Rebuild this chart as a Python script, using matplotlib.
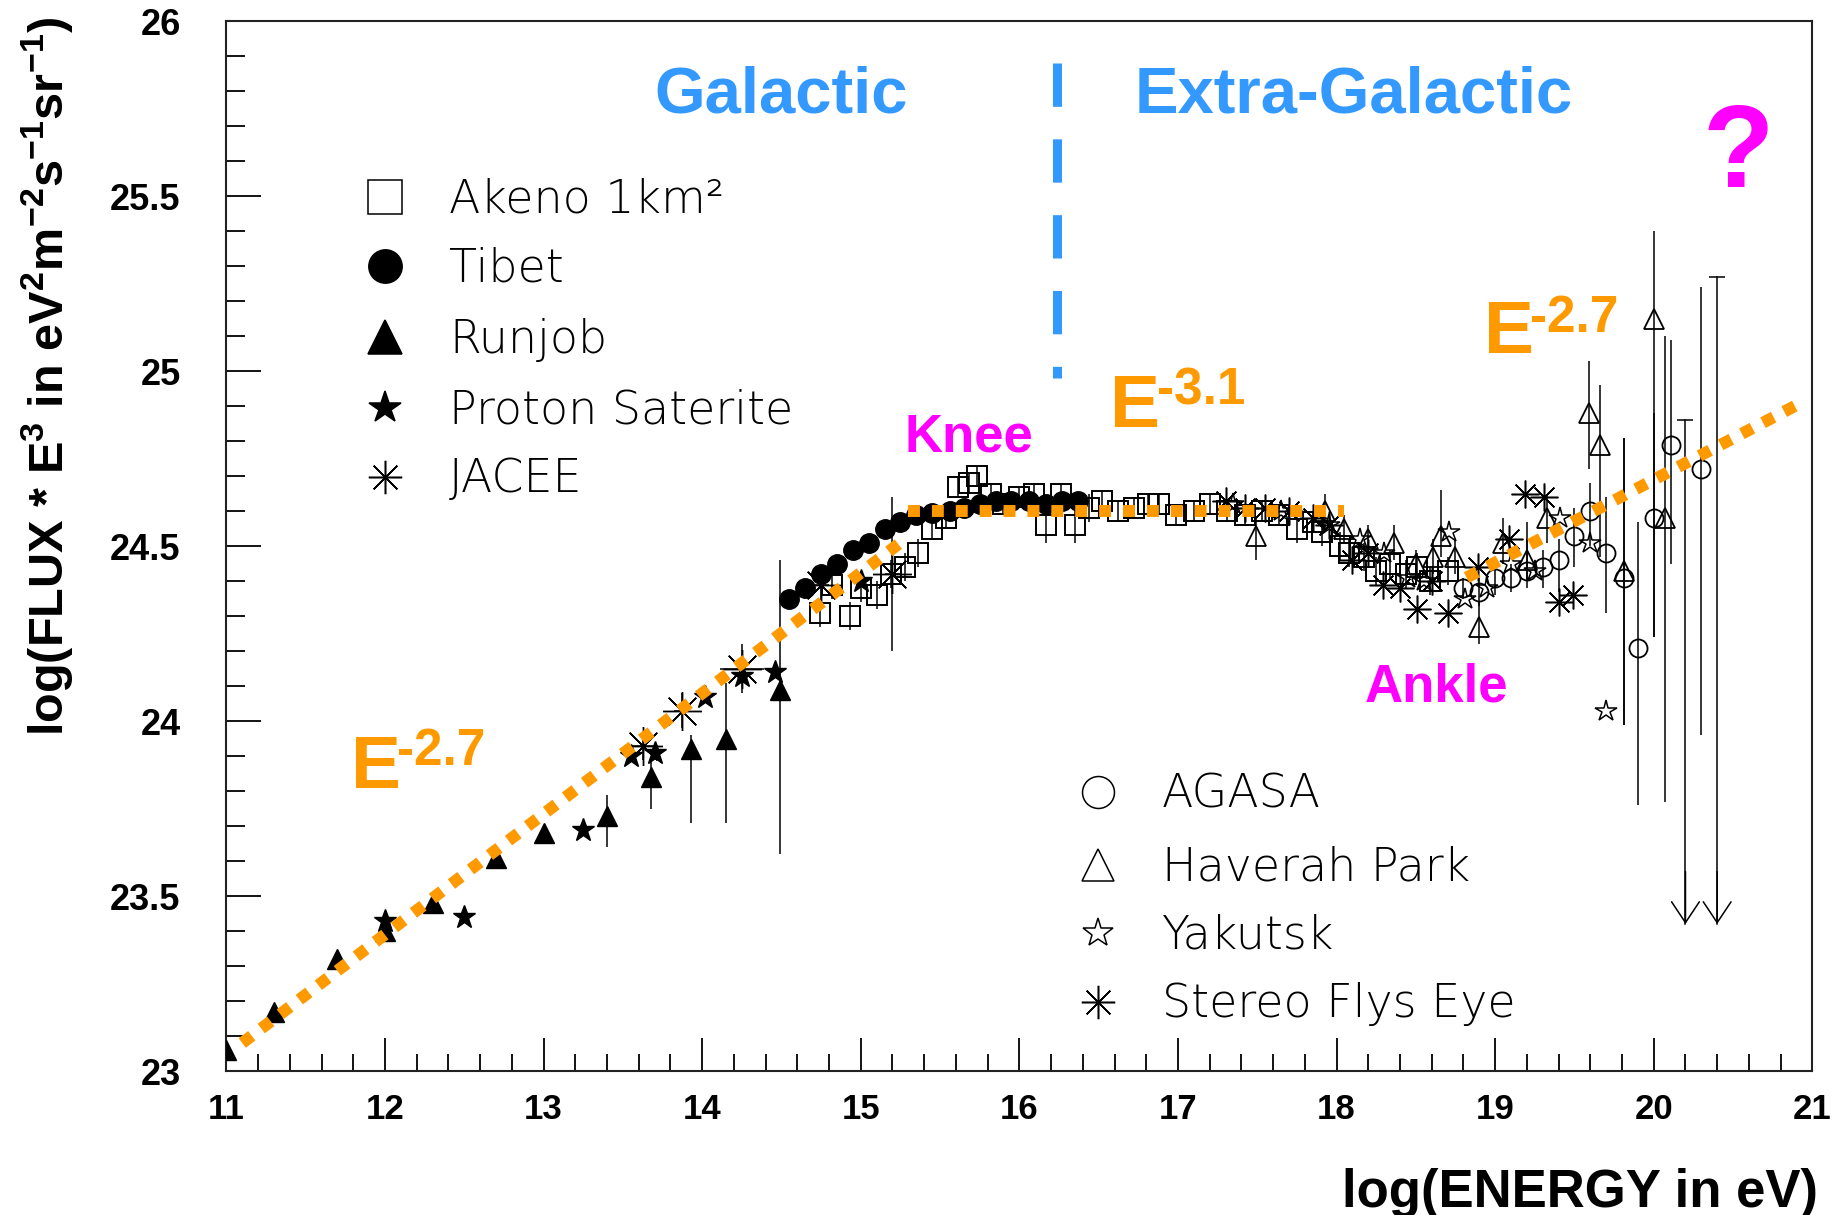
import matplotlib
matplotlib.use("Agg")
import matplotlib.pyplot as plt
from matplotlib.ticker import MultipleLocator, FuncFormatter

# ── fonts / colours ───────────────────────────────────────────────────────────
plt.rcParams["font.family"] = ["Liberation Sans", "DejaVu Sans"]
plt.rcParams["mathtext.fontset"] = "custom"
plt.rcParams["mathtext.rm"] = "Liberation Sans:bold"
plt.rcParams["mathtext.bf"] = "Liberation Sans:bold"
plt.rcParams["mathtext.it"] = "Liberation Sans:bold"

BLUE = "#3399ff"
ORANGE = "#ff9900"
MAGENTA = "#ff00ff"
LEG_FONT = dict(family=["DejaVu Sans"], fontweight=200, fontsize=33)

# ── data: log10(E / eV) vs log10(flux * E^3) ──────────────────────────────────
runjob_x = [11.00, 11.30, 11.70, 12.00, 12.30, 12.70, 13.00, 13.40, 13.68, 13.93, 14.15, 14.49]
runjob_y = [23.06, 23.17, 23.32, 23.40, 23.48, 23.61, 23.68, 23.73, 23.84, 23.92, 23.95, 24.09]
runjob_elo = [0, 0, 0, 0, 0, 0, 0, 0.09, 0.09, 0.21, 0.24, 0.47]
runjob_ehi = [0, 0, 0, 0, 0, 0, 0, 0.06, 0.05, 0.04, 0.16, 0.37]

proton_x = [12.00, 12.50, 13.25, 13.55, 13.70, 14.02, 14.25, 14.46, 15.00]
proton_y = [23.43, 23.44, 23.69, 23.90, 23.91, 24.07, 24.13, 24.14, 24.40]

jacee_x = [13.63, 13.87, 14.25, 14.75, 15.20]
jacee_y = [23.93, 24.03, 24.15, 24.39, 24.42]
jacee_xerr = [0.07, 0.05, 0.14, 0.05, 0.05]
jacee_yerr = [0.04, 0.05, 0.07, 0.05, 0.22]

tibet_x = [14.55, 14.65, 14.75, 14.85, 14.95, 15.05, 15.15, 15.25, 15.35, 15.45,
           15.56, 15.65, 15.75, 15.85, 15.95, 16.06, 16.17, 16.27, 16.37]
tibet_y = [24.35, 24.38, 24.42, 24.45, 24.49, 24.51, 24.55, 24.57, 24.59, 24.595,
           24.60, 24.61, 24.62, 24.63, 24.63, 24.63, 24.62, 24.63, 24.63]

akeno_x = [14.74, 14.82, 14.93, 15.00, 15.10, 15.19, 15.28, 15.36, 15.45, 15.54,
           15.61, 15.68, 15.73, 15.82, 15.90, 16.00, 16.09, 16.17, 16.26, 16.35,
           16.44, 16.52, 16.62, 16.72, 16.81, 16.88, 16.99, 17.10, 17.20, 17.31,
           17.42, 17.53, 17.64, 17.75, 17.85, 17.91, 18.02, 18.08, 18.17, 18.25,
           18.34, 18.44, 18.51, 18.59, 18.70]
akeno_y = [24.31, 24.39, 24.30, 24.38, 24.36, 24.42, 24.44, 24.48, 24.55, 24.58,
           24.67, 24.68, 24.70, 24.65, 24.62, 24.64, 24.65, 24.56, 24.65, 24.56,
           24.61, 24.63, 24.60, 24.61, 24.62, 24.62, 24.59, 24.60, 24.62, 24.60,
           24.59, 24.60, 24.59, 24.55, 24.57, 24.54, 24.50, 24.48, 24.47, 24.43,
           24.45, 24.42, 24.44, 24.40, 24.43]
akeno_err = [0.04, 0.04, 0.04, 0.04, 0.04, 0.04, 0.04, 0.04, 0.03, 0.03,
             0.03, 0.03, 0.03, 0.03, 0.03, 0.03, 0.03, 0.05, 0.03, 0.05,
             0.04, 0.03, 0.03, 0.03, 0.03, 0.03, 0.03, 0.03, 0.03, 0.03,
             0.03, 0.03, 0.03, 0.04, 0.03, 0.04, 0.04, 0.04, 0.04, 0.04,
             0.04, 0.04, 0.04, 0.04, 0.04]

haverah_x = [17.49, 17.93, 18.05, 18.20, 18.36, 18.50, 18.61, 18.66, 18.75, 18.90,
             19.05, 19.20, 19.33, 19.59, 19.66, 19.81, 20.00, 20.07]
haverah_y = [24.53, 24.60, 24.55, 24.52, 24.51, 24.45, 24.47, 24.53, 24.47, 24.27,
             24.51, 24.46, 24.58, 24.88, 24.79, 24.43, 25.15, 24.58]
haverah_elo = [0.07, 0.05, 0.04, 0.04, 0.05, 0.04, 0.05, 0.06, 0.05, 0.05,
               0.06, 0.06, 0.07, 0.16, 0.32, 0.44, 0.91, 0.81]
haverah_ehi = [0.05, 0.05, 0.04, 0.04, 0.05, 0.04, 0.05, 0.13, 0.05, 0.07,
               0.07, 0.06, 0.07, 0.15, 0.17, 0.38, 0.25, 0.52]

agasa_x = [18.80, 18.90, 19.00, 19.10, 19.20, 19.30, 19.40, 19.50, 19.60, 19.70,
           19.81, 19.90, 20.00, 20.11, 20.30]
agasa_y = [24.38, 24.37, 24.41, 24.41, 24.43, 24.44, 24.46, 24.53, 24.60, 24.48,
           24.41, 24.21, 24.58, 24.79, 24.72]
agasa_elo = [0.03, 0.04, 0.05, 0.04, 0.05, 0.06, 0.09, 0.09, 0.10, 0.17,
             0.42, 0.45, 0.34, 0.34, 0.76]
agasa_ehi = [0.03, 0.04, 0.05, 0.04, 0.14, 0.05, 0.06, 0.08, 0.08, 0.16,
             0.40, 0.36, 0.30, 0.30, 0.52]

# AGASA upper limits: top of bar and tip of the arrow
uplim_x = [20.20, 20.40]
uplim_top = [24.86, 25.27]
uplim_tip = [23.42, 23.42]

yakutsk_x = [17.35, 17.65, 17.95, 18.15, 18.30, 18.45, 18.55, 18.71, 18.81, 18.95,
             19.10, 19.25, 19.41, 19.60, 19.70]
yakutsk_y = [24.62, 24.60, 24.56, 24.52, 24.48, 24.41, 24.40, 24.54, 24.35, 24.38,
             24.45, 24.43, 24.58, 24.51, 24.03]

flyseye_x = [17.30, 17.42, 17.55, 17.70, 17.85, 17.95, 18.10, 18.20, 18.29, 18.40,
             18.51, 18.60, 18.70, 18.89, 19.09, 19.19, 19.31, 19.40, 19.49]
flyseye_y = [24.63, 24.61, 24.61, 24.60, 24.58, 24.56, 24.46, 24.48, 24.39, 24.38,
             24.32, 24.40, 24.31, 24.44, 24.52, 24.65, 24.64, 24.34, 24.36]

# power-law guide segments
fit_lo_x, fit_lo_y = [11.10, 15.28], [23.08, 24.52]
fit_mid_x, fit_mid_y = [15.30, 18.05], [24.60, 24.60]
fit_hi_x, fit_hi_y = [18.82, 20.89], [24.41, 24.90]

# galactic / extra-galactic boundary
boundary_x = 16.24
boundary_y = [25.88, 24.98]

# ── marker styles ─────────────────────────────────────────────────────────────
ASTER = (8, 2, 0)
STYLE = {
    "akeno":   dict(marker="s", ms=14, mfc="none", mec="black", mew=1.4),
    "tibet":   dict(marker="o", ms=14, mfc="black", mec="black"),
    "runjob":  dict(marker="^", ms=14, mfc="black", mec="black"),
    "proton":  dict(marker="*", ms=17, mfc="black", mec="black"),
    "jacee":   dict(marker=ASTER, ms=28, mfc="none", mec="black", mew=1.0),
    "agasa":   dict(marker="o", ms=13, mfc="none", mec="black", mew=1.3),
    "haverah": dict(marker="^", ms=14, mfc="none", mec="black", mew=1.3),
    "yakutsk": dict(marker="*", ms=16, mfc="none", mec="black", mew=1.1),
    "flyseye": dict(marker=ASTER, ms=20, mfc="none", mec="black", mew=1.1),
}

fig = plt.figure(figsize=(18.39, 12.15), dpi=100)
ax = fig.add_axes([0.1231, 0.1185, 0.8624, 0.8642])
ax.set_xlim(11, 21)
ax.set_ylim(23, 26)

EB = dict(fmt="none", ecolor="black", elinewidth=1.1, capsize=0, zorder=3)

# error bars first, markers on top
ax.errorbar(runjob_x, runjob_y, yerr=[runjob_elo, runjob_ehi], **EB)
ax.errorbar(jacee_x, jacee_y, xerr=jacee_xerr, yerr=jacee_yerr, **EB)
ax.errorbar(akeno_x, akeno_y, yerr=akeno_err, **EB)
ax.errorbar(haverah_x, haverah_y, yerr=[haverah_elo, haverah_ehi], **EB)
ax.errorbar(agasa_x, agasa_y, yerr=[agasa_elo, agasa_ehi], **EB)

ax.plot(akeno_x, akeno_y, ls="none", zorder=4, **STYLE["akeno"])
ax.plot(tibet_x, tibet_y, ls="none", zorder=4, **STYLE["tibet"])
ax.plot(runjob_x, runjob_y, ls="none", zorder=4, **STYLE["runjob"])
ax.plot(proton_x, proton_y, ls="none", zorder=4, **STYLE["proton"])
ax.plot(jacee_x, jacee_y, ls="none", zorder=4, **STYLE["jacee"])
ax.plot(agasa_x, agasa_y, ls="none", zorder=4, **STYLE["agasa"])
ax.plot(haverah_x, haverah_y, ls="none", zorder=4, **STYLE["haverah"])
ax.plot(yakutsk_x, yakutsk_y, ls="none", zorder=4, **STYLE["yakutsk"])
ax.plot(flyseye_x, flyseye_y, ls="none", zorder=4, **STYLE["flyseye"])

# upper limits
for x, top, tip in zip(uplim_x, uplim_top, uplim_tip):
    ax.plot([x, x], [top, tip], color="black", lw=1.1, zorder=3)
    ax.plot([x], [top], marker="_", ms=12, mew=1.1, color="black", zorder=3)
    ax.annotate("", xy=(x, tip), xytext=(x, tip + 0.15),
                arrowprops=dict(arrowstyle="->,head_length=0.6,head_width=0.4",
                                color="black", lw=1.1, mutation_scale=25,
                                shrinkA=0, shrinkB=0), zorder=3)

# orange power-law guides
for fx, fy in [(fit_lo_x, fit_lo_y), (fit_mid_x, fit_mid_y), (fit_hi_x, fit_hi_y)]:
    ax.plot(fx, fy, color=ORANGE, lw=8.6, ls=(0, (1, 1)), zorder=5)

ax.plot([boundary_x, boundary_x], boundary_y, color=BLUE, lw=6.5,
        ls=(0, (4.8, 3.6)), zorder=5)

# ── annotations ───────────────────────────────────────────────────────────────
ax.text(14.50, 25.74, "Galactic", color=BLUE, fontsize=47, fontweight="bold",
        ha="center", va="baseline")
ax.text(18.11, 25.74, "Extra-Galactic", color=BLUE, fontsize=47, fontweight="bold",
        ha="center", va="baseline")
ax.text(20.53, 25.526, "?", color=MAGENTA, fontsize=84, fontweight="bold",
        ha="center", va="baseline")
ax.text(15.68, 24.77, "Knee", color=MAGENTA, fontsize=38, fontweight="bold",
        ha="center", va="baseline")
ax.text(18.63, 24.055, "Ankle", color=MAGENTA, fontsize=38, fontweight="bold",
        ha="center", va="baseline")

# E^-index labels: base letter and raised exponent
for ex, ey, sx, sy, idx in [(11.785, 23.808, 12.076, 23.873, "-2.7"),
                            (16.57, 24.84, 16.87, 24.903, "-3.1"),
                            (18.93, 25.051, 19.22, 25.111, "-2.7")]:
    ax.text(ex, ey, "E", color=ORANGE, fontsize=54, fontweight="bold",
            ha="left", va="baseline")
    ax.text(sx, sy, idx, color=ORANGE, fontsize=37, fontweight="bold",
            ha="left", va="baseline")

# ── legends ───────────────────────────────────────────────────────────────────
legend1 = [("akeno", "Akeno 1km²"), ("tibet", "Tibet"), ("runjob", "Runjob"),
           ("proton", "Proton Saterite"), ("jacee", "JACEE")]
legend1_y = [0.8327, 0.7667, 0.6993, 0.6314, 0.5660]
legend2 = [("agasa", "AGASA"), ("haverah", "Haverah Park"),
           ("yakutsk", "Yakutsk"), ("flyseye", "Stereo Flys Eye")]
legend2_y = [0.2660, 0.1962, 0.1314, 0.0660]
LEG_MS = {"akeno": 24, "tibet": 24, "runjob": 24, "proton": 24, "jacee": 24,
          "agasa": 23, "haverah": 23, "yakutsk": 22, "flyseye": 24}

for entries, ys, xm, xt in [(legend1, legend1_y, 0.0998, 0.1404),
                            (legend2, legend2_y, 0.5496, 0.5897)]:
    for (key, label), y in zip(entries, ys):
        st = dict(STYLE[key])
        st["ms"] = LEG_MS[key]
        st["mew"] = 1.1
        ax.plot([xm], [y], ls="none", transform=ax.transAxes, clip_on=False, **st)
        ax.text(xt, y - 0.0150, label, transform=ax.transAxes, va="baseline",
                ha="left", **LEG_FONT)

# ── axes cosmetics ────────────────────────────────────────────────────────────
ax.xaxis.set_major_locator(MultipleLocator(1))
ax.xaxis.set_minor_locator(MultipleLocator(0.2))
ax.yaxis.set_major_locator(MultipleLocator(0.5))
ax.yaxis.set_minor_locator(MultipleLocator(0.1))
ax.yaxis.set_major_formatter(FuncFormatter(lambda v, p: f"{v:g}"))
ax.xaxis.set_major_formatter(FuncFormatter(lambda v, p: f"{v:g}"))

ax.tick_params(axis="both", which="both", direction="in", top=False, right=False,
               width=1.3, color="black")
ax.tick_params(axis="y", which="major", length=25, pad=33)
ax.tick_params(axis="y", which="minor", length=14)
ax.tick_params(axis="x", which="major", length=24, pad=16)
ax.tick_params(axis="x", which="minor", length=12)
for lab in ax.get_yticklabels():
    lab.set_fontsize(26)
    lab.set_fontweight("bold")
for lab in ax.get_xticklabels():
    lab.set_fontsize(25)
    lab.set_fontweight("bold")

for sp in ax.spines.values():
    sp.set_linewidth(1.5)
    sp.set_color("#222222")

fig.text(0.0253, 0.690,
         r"log(FLUX * E$^{3}$ in eV$^{2}$m$^{-2}$s$^{-1}$sr$^{-1}$)",
         rotation=90, ha="center", va="center", fontsize=35, fontweight="bold")
fig.text(0.9886, 0.0066, "log(ENERGY in eV)", ha="right", va="baseline",
         fontsize=38, fontweight="bold")

fig.savefig("out.png", dpi=100)
